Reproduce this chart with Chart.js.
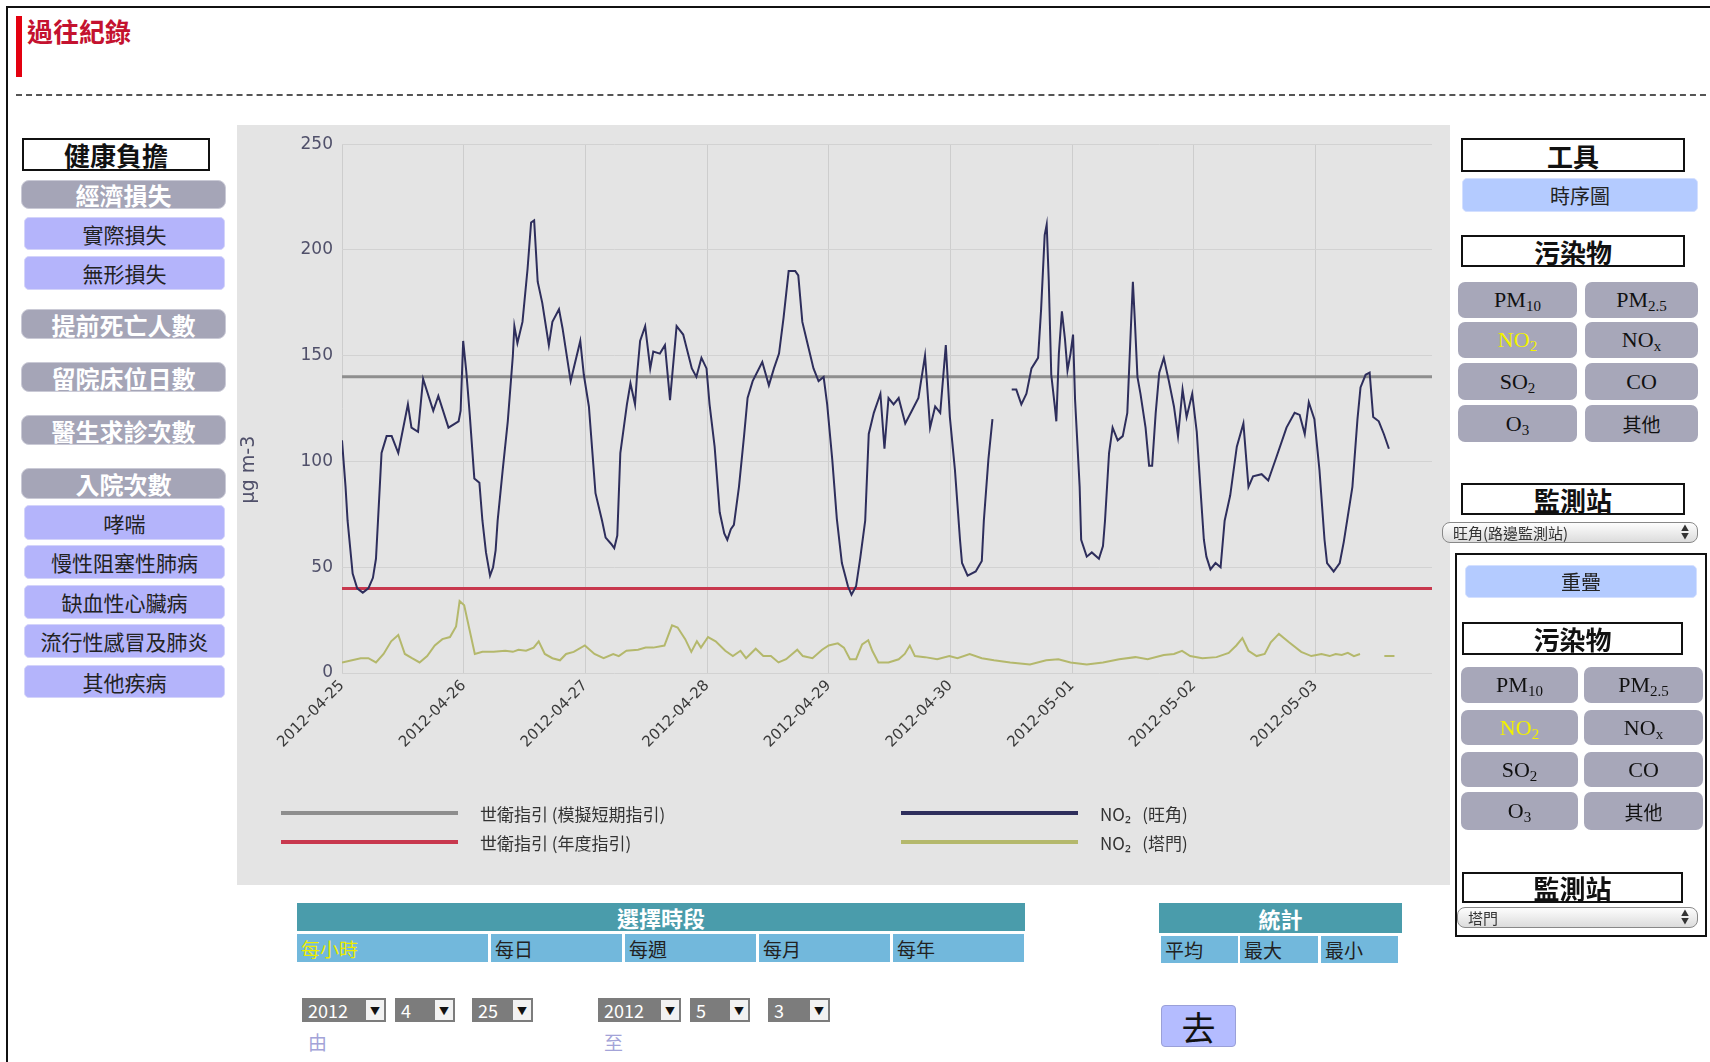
<!DOCTYPE html>
<html>
<head>
<meta charset="utf-8">
<script src="https://cdn.jsdelivr.net/npm/chart.js@4.4.1/dist/chart.umd.min.js"></script>
<style>
  body { margin: 0; width: 1710px; height: 1062px; overflow: hidden; background: #fff; position: relative;
         font-family: "Noto Sans CJK TC", "Noto Sans", sans-serif; }
  .abs { position: absolute; box-sizing: border-box; }
  .c { display: flex; align-items: center; justify-content: center; white-space: nowrap; }
  #frame { left: 6px; top: 6px; width: 1720px; height: 1070px; border-left: 2px solid #111; border-top: 2px solid #111; }
  #redbar { left: 16px; top: 16px; width: 6px; height: 61px; background: #e3000f; }
  #title { left: 27px; top: 12px; font-size: 26px; font-weight: bold; color: #c4122f; }
  #dash { left: 16px; top: 94px; width: 1700px; border-top: 2px dashed #555; }
  .hbox { background: #fff; border: 2px solid #111; font-weight: bold; font-size: 26px; color: #111; }
  .gbtn { background: #a5a5b7; border-radius: 8px; color: #fff; font-weight: bold; font-size: 24px; border: 1px solid #cacad6; }
  .lbtn { background: #b4b4fb; border-radius: 5px; color: #222; font-size: 21px; border: 1px solid #d4d4fa; }
  .bbtn { background: #b4cbff; border-radius: 5px; color: #222; font-size: 20px; border: 1px solid #d4e0ff; }
  .pbtn { background: #a7a7b9; border-radius: 7px; color: #111; font-family: "Liberation Serif", serif; font-size: 22px; }
  .pbtn sub { font-size: 15px; position: relative; top: 4px; vertical-align: baseline; }
  .pbtn.on { color: #f2f200; }
  .pbtn.cjk { font-family: "Noto Sans CJK TC", sans-serif; font-size: 19px; }
  .sel { border: 1px solid #888; border-radius: 8px; background: linear-gradient(#fdfdfd, #dcdcdc); font-size: 15px; color: #333;
         padding-left: 10px; display: flex; align-items: center; }
  .sel .arr { position: absolute; right: 8px; top: 1px; font-size: 8px; line-height: 8px; color: #333; }
  #chartBox { left: 237px; top: 125px; width: 1213px; height: 760px; background: #e4e4e4; }
  #chartWrap { left: 237px; top: 125px; width: 1213px; height: 680px; }
  .lg-line { height: 4px; width: 177px; }
  .lg-text { font-size: 17px; color: #333; white-space: pre; transform: translateY(-50%); }
  .teal { background: #4a9cab; color: #fff; font-weight: bold; font-size: 22px; }
  .cell { background: #72b8dc; color: #222; font-size: 19px; padding-left: 4px; display: flex; align-items: center; }
  .cell.on { color: #ecec00; }
  .dsel { background: #7c7c7c; color: #fff; font-size: 18px; padding-left: 6px; display: flex; align-items: center; }
  .dsel .ab { position: absolute; right: 2px; top: 2px; bottom: 2px; width: 18px; background: #f2f2f2; color: #111;
              font-size: 10px; display: flex; align-items: center; justify-content: center; }
  .lab { font-size: 19px; color: #a3a3d8; }
  #go { left: 1161px; top: 1005px; width: 75px; height: 42px; background: #b4bcff; border: 1px solid #9aa0d8; border-radius: 4px;
        font-size: 34px; color: #111; }
</style>
</head>
<body>
<div id="frame" class="abs"></div>
<div id="redbar" class="abs"></div>
<div id="title" class="abs">過往紀錄</div>
<div id="dash" class="abs"></div>

<!-- left menu -->
<div class="abs hbox c" style="left:22px;top:138px;width:188px;height:33px;">健康負擔</div>
<div class="abs gbtn c" style="left:21px;top:180px;width:205px;height:29px;">經濟損失</div>
<div class="abs lbtn c" style="left:24px;top:217px;width:201px;height:33px;">實際損失</div>
<div class="abs lbtn c" style="left:24px;top:256px;width:201px;height:34px;">無形損失</div>
<div class="abs gbtn c" style="left:21px;top:309px;width:205px;height:30px;">提前死亡人數</div>
<div class="abs gbtn c" style="left:21px;top:362px;width:205px;height:30px;">留院床位日數</div>
<div class="abs gbtn c" style="left:21px;top:415px;width:205px;height:30px;">醫生求診次數</div>
<div class="abs gbtn c" style="left:21px;top:468px;width:205px;height:31px;">入院次數</div>
<div class="abs lbtn c" style="left:24px;top:505px;width:201px;height:35px;">哮喘</div>
<div class="abs lbtn c" style="left:24px;top:545px;width:201px;height:34px;">慢性阻塞性肺病</div>
<div class="abs lbtn c" style="left:24px;top:585px;width:201px;height:34px;">缺血性心臟病</div>
<div class="abs lbtn c" style="left:24px;top:624px;width:201px;height:34px;">流行性感冒及肺炎</div>
<div class="abs lbtn c" style="left:24px;top:665px;width:201px;height:33px;">其他疾病</div>

<!-- chart -->
<div id="chartBox" class="abs"></div>
<div id="chartWrap" class="abs"><canvas id="no2Chart"></canvas></div>
<div id="legend"></div>

<!-- right menu -->
<div class="abs hbox c" style="left:1461px;top:138px;width:224px;height:34px;">工具</div>
<div class="abs bbtn c" style="left:1462px;top:178px;width:236px;height:34px;">時序圖</div>
<div class="abs hbox c" style="left:1461px;top:235px;width:224px;height:32px;">污染物</div>
<div class="abs pbtn c" style="left:1458px;top:282px;width:119px;height:36px;"><span>PM<sub>10</sub></span></div>
<div class="abs pbtn c" style="left:1585px;top:282px;width:113px;height:36px;"><span>PM<sub>2.5</sub></span></div>
<div class="abs pbtn c on" style="left:1458px;top:322px;width:119px;height:36px;"><span>NO<sub>2</sub></span></div>
<div class="abs pbtn c" style="left:1585px;top:322px;width:113px;height:36px;"><span>NO<sub>x</sub></span></div>
<div class="abs pbtn c" style="left:1458px;top:363px;width:119px;height:37px;"><span>SO<sub>2</sub></span></div>
<div class="abs pbtn c" style="left:1585px;top:363px;width:113px;height:37px;">CO</div>
<div class="abs pbtn c" style="left:1458px;top:405px;width:119px;height:37px;"><span>O<sub>3</sub></span></div>
<div class="abs pbtn c cjk" style="left:1585px;top:405px;width:113px;height:37px;">其他</div>
<div class="abs hbox c" style="left:1461px;top:483px;width:224px;height:32px;">監測站</div>
<div class="abs sel" style="left:1442px;top:522px;width:256px;height:21px;">旺角(路邊監測站)<span class="arr">▲<br>▼</span></div>

<div class="abs" style="left:1455px;top:553px;width:252px;height:384px;border:2px solid #111;"></div>
<div class="abs bbtn c" style="left:1465px;top:565px;width:232px;height:33px;">重疊</div>
<div class="abs hbox c" style="left:1462px;top:622px;width:221px;height:33px;">污染物</div>
<div class="abs pbtn c" style="left:1461px;top:667px;width:117px;height:36px;"><span>PM<sub>10</sub></span></div>
<div class="abs pbtn c" style="left:1584px;top:667px;width:119px;height:36px;"><span>PM<sub>2.5</sub></span></div>
<div class="abs pbtn c on" style="left:1461px;top:710px;width:117px;height:35px;"><span>NO<sub>2</sub></span></div>
<div class="abs pbtn c" style="left:1584px;top:710px;width:119px;height:35px;"><span>NO<sub>x</sub></span></div>
<div class="abs pbtn c" style="left:1461px;top:752px;width:117px;height:35px;"><span>SO<sub>2</sub></span></div>
<div class="abs pbtn c" style="left:1584px;top:752px;width:119px;height:35px;">CO</div>
<div class="abs pbtn c" style="left:1461px;top:792px;width:117px;height:38px;"><span>O<sub>3</sub></span></div>
<div class="abs pbtn c cjk" style="left:1584px;top:792px;width:119px;height:38px;">其他</div>
<div class="abs hbox c" style="left:1462px;top:872px;width:221px;height:31px;">監測站</div>
<div class="abs sel" style="left:1457px;top:907px;width:241px;height:21px;">塔門<span class="arr">▲<br>▼</span></div>

<!-- bottom controls -->
<div class="abs teal c" style="left:297px;top:903px;width:728px;height:28px;">選擇時段</div>
<div class="abs cell on" style="left:297px;top:934px;width:191px;height:28px;">每小時</div>
<div class="abs cell" style="left:491px;top:934px;width:131px;height:28px;">每日</div>
<div class="abs cell" style="left:625px;top:934px;width:131px;height:28px;">每週</div>
<div class="abs cell" style="left:759px;top:934px;width:131px;height:28px;">每月</div>
<div class="abs cell" style="left:893px;top:934px;width:131px;height:28px;">每年</div>
<div class="abs teal c" style="left:1159px;top:903px;width:243px;height:30px;">統計</div>
<div class="abs cell" style="left:1161px;top:936px;width:77px;height:27px;">平均</div>
<div class="abs cell" style="left:1240px;top:936px;width:78px;height:27px;">最大</div>
<div class="abs cell" style="left:1321px;top:936px;width:77px;height:27px;">最小</div>

<div class="abs dsel" style="left:302px;top:998px;width:84px;height:24px;">2012<span class="ab">▼</span></div>
<div class="abs dsel" style="left:395px;top:998px;width:60px;height:24px;">4<span class="ab">▼</span></div>
<div class="abs dsel" style="left:472px;top:998px;width:61px;height:24px;">25<span class="ab">▼</span></div>
<div class="abs dsel" style="left:598px;top:998px;width:83px;height:24px;">2012<span class="ab">▼</span></div>
<div class="abs dsel" style="left:690px;top:998px;width:60px;height:24px;">5<span class="ab">▼</span></div>
<div class="abs dsel" style="left:768px;top:998px;width:62px;height:24px;">3<span class="ab">▼</span></div>
<div class="abs lab" style="left:308px;top:1028px;">由</div>
<div class="abs lab" style="left:604px;top:1028px;">至</div>
<div id="go" class="abs c">去</div>

<script>
// x axis: hours counted from 2012-04-25 00:00
const dayTicks = [0, 24, 48, 72, 96, 120, 144, 168, 192];
const dayLabels = ['2012-04-25', '2012-04-26', '2012-04-27', '2012-04-28', '2012-04-29',
                   '2012-04-30', '2012-05-01', '2012-05-02', '2012-05-03'];

// WHO guideline levels (µg m-3)
const guideHours = [0, 215];
const guideShort = [140, 140];
const guideAnnual = [40, 40];

// NO2, Mong Kok (旺角)
const wkHours = [
  0, 0.7, 1.1, 2.1, 3, 4.1, 5.2, 6.1, 6.7, 7.1,
  7.8, 8.8, 9.8, 11.1, 13, 13.7, 15, 16, 18, 19,
  21, 23, 23.4, 23.9, 24.5, 25.2, 26.1, 27.1, 27.7, 28.4,
  29.2, 29.8, 30.3, 30.7, 31.7, 32.7, 33.7, 34, 34.6, 35.6,
  36.6, 37.3, 37.9, 38.6, 39.5, 40.8, 41.5, 42.8, 43.5, 45.1,
  47, 47.7, 48.7, 50, 51.3, 52, 53.1, 53.7, 54.3, 54.9,
  56.2, 56.9, 57.8, 58.2, 58.8, 59.8, 60.8, 61.4, 62.7, 63.7,
  64.7, 66, 67.3, 69, 69.9, 70.9, 71.9, 72.5, 73.5, 74.5,
  75.4, 76, 76.7, 77.3, 78.3, 79.3, 80, 81, 82.9, 84.2,
  85.2, 86.2, 87.1, 88.1, 89.4, 90, 90.8, 91.7, 93, 94,
  95, 95.7, 96.7, 97.6, 98.6, 99.8, 100.5, 101.4, 102.2, 103.2,
  103.9, 104.9, 106.2, 107, 107.8, 108.8, 109.8, 111.1, 112.4, 113.7,
  115, 116, 117, 118, 119.1, 119.9, 120.9, 121.9, 122.3, 123.4,
  125, 126.2, 126.6, 127.5, 128.3, 130, 132.1, 133, 134, 135,
  136, 137.3, 137.9, 138.6, 139, 139.4, 139.9, 140.6, 140.9, 141.4,
  142, 142.6, 143.1, 143.7, 144.2, 144.6, 145.5, 145.8, 146.9, 147.9,
  149.3, 150.1, 150.5, 151.3, 152, 153, 154, 154.9, 155.6, 156,
  156.4, 156.9, 157.5, 158.5, 159.2, 159.8, 160.5, 161.2, 162.1, 163.1,
  164.1, 164.9, 165.8, 166.6, 167.7, 168.6, 169.3, 170, 170.5, 171.3,
  172.3, 173.3, 174.1, 175.2, 176.5, 177.8, 178.8, 179.7, 181.4, 182.7,
  184.3, 186.3, 187.9, 188.9, 189.9, 190.7, 191.8, 192.8, 193.8, 194.3,
  195.6, 196.8, 197.6, 199.3, 200.3, 200.9, 201.9, 202.7, 203.4, 204.5,
  205.5, 206.5
];
const wkValues = [
  110, 88, 72, 47, 40, 38, 40, 45, 54, 72,
  104, 112, 112, 104, 127, 116, 114, 139, 124, 131,
  116, 119, 124, 157, 143, 122, 92, 90, 72, 57,
  46, 50, 58, 72, 96, 119, 150, 164, 156, 166,
  191, 213, 214, 185, 175, 155, 166, 172, 163, 138,
  157, 141, 126, 85, 72, 64, 61, 59, 65, 104,
  127, 137, 127, 141, 157, 164, 144, 152, 151, 155,
  129, 164, 160, 144, 140, 149, 144, 127, 107, 76,
  66, 63, 68, 70, 88, 112, 130, 138, 147, 136,
  144, 151, 168, 190, 190, 188, 166, 157, 144, 138,
  140, 127, 101, 73, 52, 41, 37, 41, 54, 72,
  113, 123, 132, 106, 130, 127, 130, 118, 124, 130,
  150, 116, 126, 123, 155, 121, 96, 63, 52, 46,
  48, 53, 72, 101, 120, null, 134, 134, 127, 132,
  144, 149, 172, 207, 212, 186, 141, 126, 119, 151,
  171, 158, 143, 151, 160, 129, 88, 63, 55, 57,
  54, 60, 72, 104, 116, 110, 112, 123, 163, 185,
  166, 140, 132, 116, 98, 98, 123, 142, 149, 138,
  126, 112, 134, 121, 132, 114, 88, 63, 55, 49,
  52, 50, 72, 84, 107, 118, 88, 93, 94, 91,
  102, 116, 123, 122, 113, 128, 120, 96, 63, 52,
  48, 52, 62, 88, 120, 135, 141, 142, 121, 119,
  113, 106
];

// NO2, Tap Mun (塔門)
const tmHours = [
  0, 3.7, 5.2, 6.7, 8.2, 9.7, 11.1, 12.4, 13.8, 15.3,
  16.8, 18.3, 19.8, 21.3, 22.5, 23.2, 24.1, 25.1, 26.2, 27.7,
  29.9, 32.2, 33.7, 34.8, 36.3, 37.8, 38.8, 40, 41.5, 43,
  44.2, 45.7, 47.9, 49.8, 51.6, 53.5, 54.6, 56.1, 58.4, 59.9,
  61.4, 63.6, 65.1, 66.2, 67.7, 68.9, 70, 70.8, 72.2, 73.7,
  75.6, 77.1, 78.6, 79.7, 81.6, 83.1, 84.6, 86.1, 87.6, 89.8,
  90.9, 92.8, 94.7, 96, 97.8, 99, 100.2, 101.4, 102.6, 103.8,
  104.6, 105.8, 107.8, 109.8, 111, 112, 113, 115, 117.4, 119.8,
  121.4, 123.8, 126.2, 128.6, 131.8, 135.7, 138.9, 141.3, 143.7, 146.9,
  150.1, 153.3, 156.5, 158.9, 162.1, 164.1, 165.7, 167.3, 169.7, 172.5,
  174.9, 176.4, 177.6, 178.8, 180.4, 182, 183.2, 184.8, 186.8, 189.2,
  191.2, 193.2, 194.8, 196, 197.2, 198.4, 199.6, 200.8, 203, 205.6,
  207.6
];
const tmValues = [
  5, 7, 7, 5, 9, 15, 18, 9, 7, 5,
  8, 13, 16, 17, 22, 34, 32, 21, 9, 10,
  10, 10.5, 10, 11, 10.5, 12, 15, 9, 7, 6,
  9, 10, 13, 9, 7, 9, 8, 10.5, 11, 12,
  12, 13, 22.5, 21.5, 16, 10, 15, 12, 17, 15,
  10.5, 8, 10.5, 7, 11.5, 8, 8, 5, 6.5, 11,
  8, 7, 11, 13, 14, 12, 6.5, 6.5, 13.5, 15.5,
  10.5, 5, 5, 6.5, 9, 13, 8, 7.5, 6.5, 8,
  7, 9, 7, 6, 5, 4, 6, 6.5, 5, 4,
  5, 6.5, 7.5, 6.5, 8.5, 9, 10.5, 8, 7, 7.5,
  9.5, 13, 16.5, 10.5, 8, 9, 14.5, 18.5, 14.5, 10,
  8, 9, 8, 9, 8.5, 9.5, 8, 9, null, 8,
  8
];

function toPoints(hours, values) {
  return hours.map((h, i) => ({ x: h, y: values[i] }));
}

// unit label on the left of the y axis
const unitLabel = {
  id: 'unitLabel',
  afterDraw(chart) {
    const { ctx, chartArea } = chart;
    ctx.save();
    ctx.translate(chartArea.left - 93, (chartArea.top + chartArea.bottom) / 2 + 61);
    ctx.rotate(-Math.PI / 2);
    ctx.font = '19px "DejaVu Sans"';
    ctx.fillStyle = '#50506a';
    ctx.textAlign = 'center';
    ctx.textBaseline = 'middle';
    ctx.fillText('μg m-3', 0, 0);
    ctx.restore();
  }
};

const chart = new Chart(document.getElementById('no2Chart'), {
  type: 'line',
  data: {
    datasets: [
      { label: '世衛指引 (模擬短期指引)', data: toPoints(guideHours, guideShort), borderColor: '#8e8e8e', borderWidth: 3, order: 3 },
      { label: '世衛指引 (年度指引)', data: toPoints(guideHours, guideAnnual), borderColor: '#c8384e', borderWidth: 3, order: 4 },
      { label: 'NO₂   (旺角)', data: toPoints(wkHours, wkValues), borderColor: '#2e2e5c', borderWidth: 2, order: 1 },
      { label: 'NO₂   (塔門)', data: toPoints(tmHours, tmValues), borderColor: '#b4b86c', borderWidth: 2, order: 2 }
    ]
  },
  options: {
    responsive: true,
    maintainAspectRatio: false,
    animation: false,
    layout: { padding: { top: 16, right: 18, bottom: 32, left: 0 } },
    elements: { point: { radius: 0 }, line: { tension: 0 } },
    scales: {
      x: {
        type: 'linear',
        min: 0,
        max: 215,
        afterBuildTicks: (scale) => { scale.ticks = dayTicks.map((v) => ({ value: v })); },
        afterFit: (scale) => { scale.height = 100; },
        ticks: {
          autoSkip: false,
          minRotation: 45,
          maxRotation: 45,
          padding: 4,
          color: '#3a3a3a',
          font: { family: 'DejaVu Sans', size: 15 },
          callback: (v) => dayLabels[dayTicks.indexOf(v)]
        },
        grid: { color: '#cdcdcd', drawTicks: false },
        border: { display: false }
      },
      y: {
        min: 0,
        max: 250,
        afterFit: (scale) => { scale.width = 105; },
        ticks: { stepSize: 50, padding: 9, color: '#50506a', font: { family: 'DejaVu Sans', size: 17 } },
        grid: { color: '#d2d2d2', drawTicks: false },
        border: { display: false }
      }
    },
    plugins: {
      legend: { display: false },
      tooltip: { enabled: false }
    }
  },
  plugins: [unitLabel]
});

// legend in two columns, as on the page
const legendSpots = [
  { left: 281, top: 813 }, { left: 281, top: 842 },
  { left: 901, top: 813 }, { left: 901, top: 842 }
];
const legendEl = document.getElementById('legend');
chart.data.datasets.forEach((ds, i) => {
  const spot = legendSpots[i];
  const line = document.createElement('div');
  line.className = 'abs lg-line';
  line.style.left = spot.left + 'px';
  line.style.top = (spot.top - 2) + 'px';
  line.style.background = ds.borderColor;
  const text = document.createElement('div');
  text.className = 'abs lg-text';
  text.style.left = (spot.left + 199) + 'px';
  text.style.top = spot.top + 'px';
  text.textContent = ds.label;
  legendEl.appendChild(line);
  legendEl.appendChild(text);
});
</script>
</body>
</html>
